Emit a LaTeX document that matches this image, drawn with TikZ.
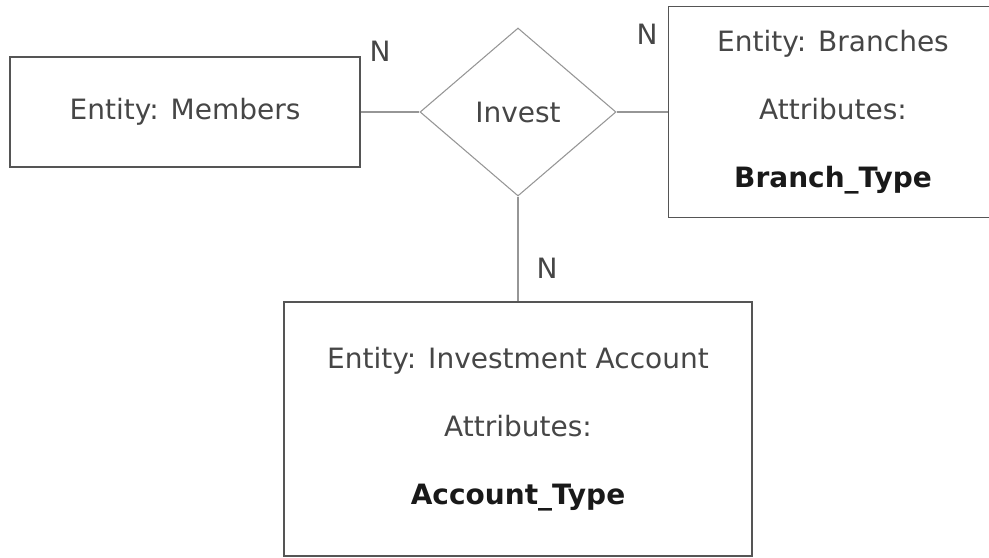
\documentclass[tikz,border=0pt]{standalone}
\usepackage{fontspec}
\setmainfont{DejaVu Sans}
\usepackage{tikz}
\usetikzlibrary{shapes.geometric}
\usepackage{xcolor}
\definecolor{boxgray}{RGB}{85,85,85}
\definecolor{linegray}{RGB}{150,150,150}
\definecolor{textgray}{RGB}{70,70,70}

\begin{document}
\begin{tikzpicture}[x=0.75pt,y=0.75pt,yscale=-1,xscale=1,
  entity/.style={draw=boxgray, line width=1.1pt, inner sep=0pt, align=center, text=textgray, font=\fontsize{21}{51}\selectfont},
  relation/.style={diamond, draw=linegray, line width=0.8pt, inner sep=0pt, text=textgray, font=\fontsize{21}{25}\selectfont},
  link/.style={draw=linegray, line width=1.2pt},
  card/.style={inner sep=0pt, text=textgray, font=\fontsize{21}{25}\selectfont}]
%set diagram window at 989 x 557
\useasboundingbox (0,0) rectangle (989,557);

%Shape: Rectangle [Members]
\node [entity, minimum width=262.5pt, minimum height=82.5pt] (members) at (185,112) {Entity: Members};
%Shape: Diamond [Invest]
\node [relation, minimum width=147pt, minimum height=126pt] (invest) at (518,112) {Invest};
%Shape: Rectangle [Branches] (cut off by the right edge)
\node [entity, draw=none, minimum width=246pt, minimum height=157.5pt] (branches) at (833,112) {Entity: Branches\\Attributes:\\\textbf{\color{black!90}Branch\_Type}};
\draw [boxgray, line width=1.1pt] (branches.north east) -- (branches.north west) -- (branches.south west) -- (branches.south east) ;
%Shape: Rectangle [Investment Account]
\node [entity, minimum width=351pt, minimum height=190.5pt] (account) at (518,429) {Entity: Investment Account\\Attributes:\\\textbf{\color{black!90}Account\_Type}};

%Straight Lines
\draw [link] (members.east) -- (invest.west) ;
\draw [link] (invest.east) -- (branches.west) ;
\draw [link] (invest.south) -- (account.north) ;

% Text Node
\node [card] (nmembers) at (380,51) {N};
% Text Node
\node [card] (nbranches) at (647,34) {N};
% Text Node
\node [card] (naccount) at (547,268) {N};

\end{tikzpicture}
\end{document}
